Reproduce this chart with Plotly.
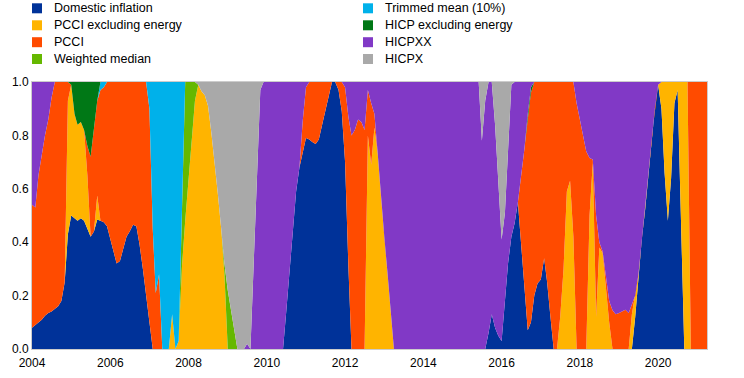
import pandas as pd
import plotly.graph_objects as go

# Monthly observations, January 2004 – April 2021
dates = pd.date_range("2004-01-01", periods=208, freq="MS")

domestic = [
    0.08, 0.09, 0.10, 0.11, 0.125, 0.135, 0.14, 0.15, 0.16, 0.18, 0.25, 0.43,  # 2004
    0.50, 0.49, 0.48, 0.49, 0.48, 0.45, 0.42, 0.44, 0.485, 0.48, 0.475, 0.46,  # 2005
    0.41, 0.36, 0.32, 0.33, 0.38, 0.42, 0.44, 0.465, 0.46, 0.39, 0.30, 0.21,  # 2006
    0.10, 0, 0, 0, 0, 0, 0, 0, 0, 0, 0, 0,  # 2007
    0, 0, 0, 0, 0, 0, 0, 0, 0, 0, 0, 0,  # 2008
    0, 0, 0, 0, 0, 0, 0, 0, 0, 0, 0, 0,  # 2009
    0, 0, 0, 0, 0, 0, 0.14, 0.30, 0.47, 0.59, 0.68, 0.74,  # 2010
    0.79, 0.785, 0.775, 0.768, 0.785, 0.84, 0.89, 0.95, 1.0, 1.0, 0.97, 0.89,  # 2011
    0.70, 0.31, 0, 0, 0, 0, 0, 0, 0, 0, 0, 0,  # 2012
    0, 0, 0, 0, 0, 0, 0, 0, 0, 0, 0, 0,  # 2013
    0, 0, 0, 0, 0, 0, 0, 0, 0, 0, 0, 0,  # 2014
    0, 0, 0, 0, 0, 0, 0, 0, 0.06, 0.13, 0.08, 0.05,  # 2015
    0.03, 0.17, 0.32, 0.42, 0.47, 0.55, 0.40, 0.23, 0.07, 0.10, 0.20, 0.245,  # 2016
    0.26, 0.34, 0.25, 0.12, 0, 0, 0, 0, 0, 0, 0, 0,  # 2017
    0, 0, 0, 0, 0, 0, 0, 0, 0, 0, 0, 0,  # 2018
    0, 0, 0, 0, 0, 0.12, 0.28, 0.41, 0.52, 0.65, 0.79, 0.90,  # 2019
    0.99, 0.90, 0.66, 0.48, 0.64, 0.92, 0.97, 0.48, 0, 0, 0, 0,  # 2020
    0, 0, 0, 0,  # 2021
]

pcci_ex_energy = [
    0, 0, 0, 0, 0, 0, 0, 0, 0, 0, 0, 0.50,  # 2004
    0.49, 0.39, 0.36, 0.36, 0.34, 0.20, 0, 0, 0.09, 0, 0, 0,  # 2005
    0, 0, 0, 0, 0, 0, 0, 0, 0, 0, 0, 0,  # 2006
    0, 0, 0, 0, 0, 0, 0, 0.13, 0, 0.03, 0.31, 0.48,  # 2007
    0.63, 0.79, 0.93, 0.99, 0.965, 0.95, 0.91, 0.81, 0.70, 0.58, 0.45, 0.28,  # 2008
    0, 0, 0, 0, 0, 0, 0, 0, 0, 0, 0, 0,  # 2009
    0, 0, 0, 0, 0, 0, 0, 0, 0, 0, 0, 0,  # 2010
    0, 0, 0, 0, 0, 0, 0, 0, 0, 0, 0, 0,  # 2011
    0, 0, 0, 0, 0, 0, 0, 0.80, 0.69, 0.83, 0.73, 0.57,  # 2012
    0.42, 0.28, 0.13, 0, 0, 0, 0, 0, 0, 0, 0, 0,  # 2013
    0, 0, 0, 0, 0, 0, 0, 0, 0, 0, 0, 0,  # 2014
    0, 0, 0, 0, 0, 0, 0, 0, 0, 0, 0, 0,  # 2015
    0, 0, 0, 0, 0, 0, 0, 0, 0, 0, 0, 0,  # 2016
    0, 0, 0, 0, 0, 0, 0.12, 0.30, 0.59, 0.63, 0.42, 0,  # 2017
    0, 0, 0, 0.50, 0.70, 0.12, 0.38, 0.36, 0.22, 0.10, 0, 0,  # 2018
    0, 0, 0, 0, 0.13, 0.08, 0, 0, 0, 0, 0, 0,  # 2019
    0, 0.10, 0.34, 0.52, 0.36, 0.08, 0.03, 0.52, 1.0, 1.0, 0, 0,  # 2020
    0, 0, 0, 0,  # 2021
]

pcci = [
    0.46, 0.44, 0.55, 0.62, 0.675, 0.725, 0.80, 0.85, 0.84, 0.82, 0.75, 0.07,  # 2004
    0, 0, 0, 0, 0, 0.11, 0.30, 0.38, 0.355, 0.49, 0.505, 0.54,  # 2005
    0.59, 0.64, 0.68, 0.67, 0.62, 0.58, 0.56, 0.535, 0.54, 0.61, 0.70, 0.79,  # 2006
    0.80, 0.45, 0.21, 0.28, 0, 0, 0, 0, 0, 0, 0, 0,  # 2007
    0, 0, 0, 0, 0, 0, 0, 0, 0, 0, 0, 0,  # 2008
    0, 0, 0, 0, 0, 0, 0, 0, 0, 0, 0, 0,  # 2009
    0, 0, 0, 0, 0, 0, 0, 0, 0, 0, 0, 0.11,  # 2010
    0.19, 0.215, 0.225, 0.232, 0.215, 0.16, 0.11, 0.05, 0, 0, 0.03, 0.11,  # 2011
    0.28, 0.56, 0.80, 0.82, 0.86, 0.85, 0.82, 0.17, 0.23, 0.05, 0, 0,  # 2012
    0, 0, 0, 0, 0, 0, 0, 0, 0, 0, 0, 0,  # 2013
    0, 0, 0, 0, 0, 0, 0, 0, 0, 0, 0, 0,  # 2014
    0, 0, 0, 0, 0, 0, 0, 0, 0, 0, 0, 0,  # 2015
    0, 0, 0, 0, 0, 0, 0.24, 0.52, 0.79, 0.86, 0.80, 0.755,  # 2016
    0.74, 0.66, 0.75, 0.88, 1.0, 1.0, 0.88, 0.70, 0.41, 0.37, 0.58, 0.92,  # 2017
    0.86, 0.79, 0.74, 0.215, 0.01, 0.38, 0.02, 0.005, 0.06, 0.08, 0.145, 0.13,  # 2018
    0.135, 0.14, 0.147, 0.135, 0.04, 0, 0, 0, 0, 0, 0, 0,  # 2019
    0, 0, 0, 0, 0, 0, 0, 0, 0, 0, 1.0, 1.0,  # 2020
    1.0, 1.0, 1.0, 1.0,  # 2021
]

weighted_median = [
    0, 0, 0, 0, 0, 0, 0, 0, 0, 0, 0, 0,  # 2004
    0, 0, 0, 0, 0, 0, 0, 0, 0, 0, 0, 0,  # 2005
    0, 0, 0, 0, 0, 0, 0, 0, 0, 0, 0, 0,  # 2006
    0, 0, 0, 0, 0, 0, 0, 0, 0, 0, 0.24, 0.52,  # 2007
    0.37, 0.21, 0.07, 0, 0, 0, 0, 0, 0, 0, 0, 0.04,  # 2008
    0.22, 0.14, 0.07, 0, 0, 0, 0, 0, 0, 0, 0, 0,  # 2009
] + [0] * 136  # 2010 – 2021

trimmed_mean = [
    0, 0, 0, 0, 0, 0, 0, 0, 0, 0, 0, 0,  # 2004
    0, 0, 0, 0, 0, 0, 0, 0, 0, 0.03, 0.02, 0,  # 2005
    0, 0, 0, 0, 0, 0, 0, 0, 0, 0, 0, 0,  # 2006
    0.10, 0.55, 0.79, 0.72, 1.0, 1.0, 1.0, 0.87, 1.0, 0.97, 0.45, 0,  # 2007
] + [0] * 160  # 2008 – 2021

hicp_ex_energy = [
    0, 0, 0, 0, 0, 0, 0, 0, 0, 0, 0, 0,  # 2004
    0.01, 0.12, 0.16, 0.15, 0.18, 0.24, 0.28, 0.18, 0.07, 0, 0, 0,  # 2005
] + [0] * 120 + [  # 2006 – 2015
    0, 0, 0, 0, 0, 0, 0, 0, 0.02, 0.02, 0, 0,  # 2016
] + [0] * 52  # 2017 – 2021

hicpxx = [
    0.46, 0.47, 0.35, 0.27, 0.20, 0.14, 0.06, 0, 0, 0, 0, 0,  # 2004
    0, 0, 0, 0, 0, 0, 0, 0, 0, 0, 0, 0,  # 2005
    0, 0, 0, 0, 0, 0, 0, 0, 0, 0, 0, 0,  # 2006
    0, 0, 0, 0, 0, 0, 0, 0, 0, 0, 0, 0,  # 2007
    0, 0, 0, 0, 0, 0, 0, 0, 0, 0, 0, 0,  # 2008
    0, 0, 0, 0, 0, 0, 0.02, 0, 0.33, 0.68, 0.97, 1.0,  # 2009
    1.0, 1.0, 1.0, 1.0, 1.0, 1.0, 0.86, 0.70, 0.53, 0.41, 0.32, 0.15,  # 2010
    0.02, 0, 0, 0, 0, 0, 0, 0, 0, 0, 0, 0,  # 2011
    0.02, 0.13, 0.20, 0.18, 0.14, 0.15, 0.18, 0.03, 0.08, 0.12, 0.27, 0.43,  # 2012
    0.58, 0.72, 0.87, 1.0, 1.0, 1.0, 1.0, 1.0, 1.0, 1.0, 1.0, 1.0,  # 2013
    1.0, 1.0, 1.0, 1.0, 1.0, 1.0, 1.0, 1.0, 1.0, 1.0, 1.0, 1.0,  # 2014
    1.0, 1.0, 1.0, 1.0, 1.0, 1.0, 0.78, 0.93, 0.94, 0.87, 0.76, 0.57,  # 2015
    0.38, 0.34, 0.43, 0.57, 0.53, 0.45, 0.36, 0.25, 0.12, 0.02, 0, 0,  # 2016
    0, 0, 0, 0, 0, 0, 0, 0, 0, 0, 0, 0.08,  # 2017
    0.14, 0.21, 0.26, 0.285, 0.29, 0.50, 0.60, 0.635, 0.72, 0.82, 0.855, 0.87,  # 2018
    0.865, 0.86, 0.853, 0.865, 0.83, 0.80, 0.72, 0.59, 0.48, 0.35, 0.21, 0.10,  # 2019
    0.01, 0, 0, 0, 0, 0, 0, 0, 0, 0, 0, 0,  # 2020
    0, 0, 0, 0,  # 2021
]

hicpx = [
    0, 0, 0, 0, 0, 0, 0, 0, 0, 0, 0, 0,  # 2004
    0, 0, 0, 0, 0, 0, 0, 0, 0, 0, 0, 0,  # 2005
    0, 0, 0, 0, 0, 0, 0, 0, 0, 0, 0, 0,  # 2006
    0, 0, 0, 0, 0, 0, 0, 0, 0, 0, 0, 0,  # 2007
    0, 0, 0, 0.01, 0.035, 0.05, 0.09, 0.19, 0.30, 0.42, 0.55, 0.68,  # 2008
    0.78, 0.86, 0.93, 1.0, 1.0, 1.0, 0.98, 1.0, 0.67, 0.32, 0.03, 0,  # 2009
] + [0] * 60 + [  # 2010 – 2014
    0, 0, 0, 0, 0, 0, 0.22, 0.07, 0, 0, 0.16, 0.38,  # 2015
    0.59, 0.49, 0.25, 0.01, 0, 0, 0, 0, 0, 0, 0, 0,  # 2016
] + [0] * 52  # 2017 – 2021

series = [
    ("Domestic inflation", domestic, "#003299"),
    ("PCCI excluding energy", pcci_ex_energy, "#FFB400"),
    ("PCCI", pcci, "#FF4B00"),
    ("Weighted median", weighted_median, "#65B800"),
    ("Trimmed mean (10%)", trimmed_mean, "#00B1EA"),
    ("HICP excluding energy", hicp_ex_energy, "#007816"),
    ("HICPXX", hicpxx, "#8139C6"),
    ("HICPX", hicpx, "#A9A9A9"),
]

legend_cols = [
    ["Domestic inflation", "PCCI excluding energy", "PCCI", "Weighted median"],
    ["Trimmed mean (10%)", "HICP excluding energy", "HICPXX", "HICPX"],
]

W, H = 744, 378
L, R, T, B = 32, 37, 82, 29
PW, PH = W - L - R, H - T - B

fig = go.Figure()
for name, vals, col in series:
    fig.add_trace(go.Scatter(
        x=dates, y=vals, name=name, mode="lines",
        stackgroup="one", line=dict(width=0, color=col),
        fillcolor=col, hoverinfo="skip", showlegend=False,
    ))

def px_x(X):
    return (X - L) / PW

def px_y(Y):
    return (H - B - Y) / PH

colors = {n: c for n, _, c in series}
shapes, annots = [], []
col_sq_x = [32, 363]
col_tx_x = [52, 383]
row_y = [8.3, 25.3, 42.2, 59.0]
for ci, names in enumerate(legend_cols):
    for ri, nm in enumerate(names):
        yc = row_y[ri]
        shapes.append(dict(
            type="rect", xref="paper", yref="paper",
            x0=px_x(col_sq_x[ci]), x1=px_x(col_sq_x[ci] + 10),
            y0=px_y(yc + 5), y1=px_y(yc - 5),
            fillcolor=colors[nm], line=dict(width=0),
        ))
        annots.append(dict(
            text=nm, xref="paper", yref="paper",
            x=px_x(col_tx_x[ci]), y=px_y(yc),
            xanchor="left", yanchor="middle", showarrow=False,
            font=dict(size=12.5, color="#000000"),
        ))

fig.update_layout(
    width=W, height=H,
    margin=dict(l=L, r=R, t=T, b=B, autoexpand=False),
    paper_bgcolor="white", plot_bgcolor="white",
    font=dict(family="Arial, Liberation Sans, sans-serif", size=12, color="#000000"),
    shapes=shapes, annotations=annots,
    showlegend=False, hovermode=False,
)
fig.update_xaxes(
    type="date", range=["2004-01-01", "2021-04-01"],
    tick0="2004-01-01", dtick="M24", tickformat="%Y",
    showgrid=False, zeroline=False, automargin=False,
    showline=True, mirror=True, linecolor="#cccccc", linewidth=1,
    ticks="", tickfont=dict(size=12), ticklabelstandoff=3,
)
fig.update_yaxes(
    range=[0, 1], dtick=0.2, tickformat=".1f",
    showgrid=False, zeroline=False, automargin=False,
    showline=True, mirror=True, linecolor="#cccccc", linewidth=1,
    ticks="", tickfont=dict(size=12),
)

fig.write_html(
    "out.html",
    config={"displayModeBar": False, "staticPlot": True},
    post_script="document.body.style.margin='0';document.body.style.overflow='hidden';",
)
